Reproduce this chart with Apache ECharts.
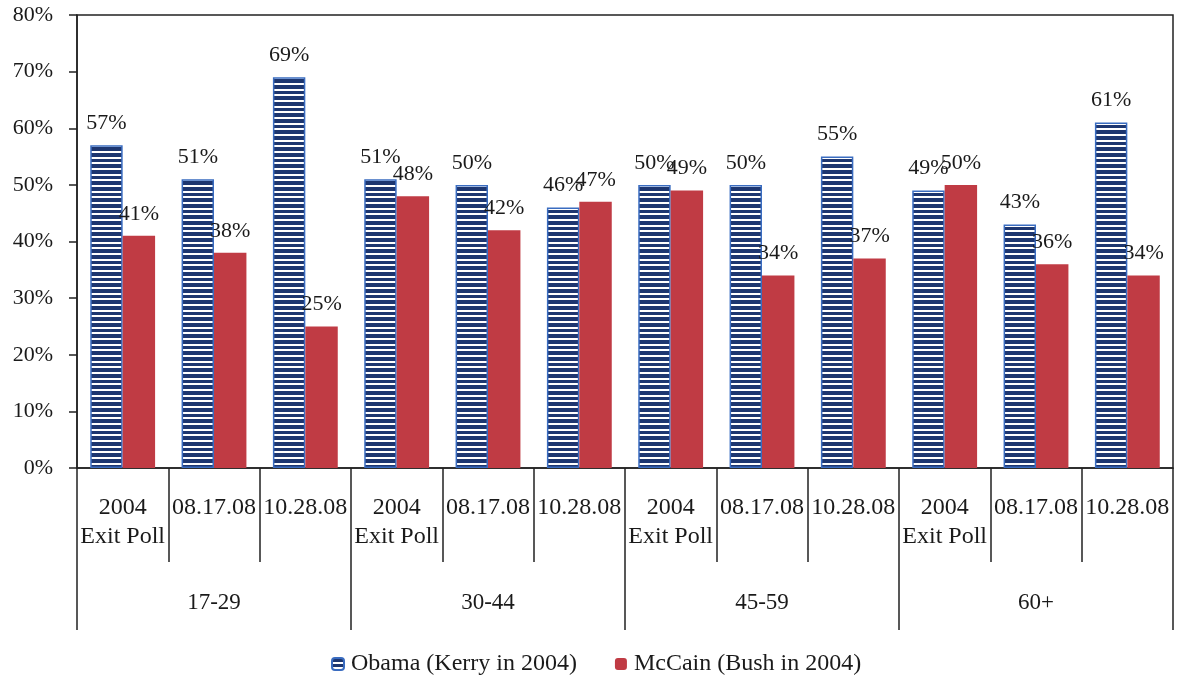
<!DOCTYPE html>
<html>
<head>
<meta charset="utf-8">
<script src="https://cdn.jsdelivr.net/npm/echarts@6/dist/echarts.min.js"></script>
<style>
html,body{margin:0;padding:0;background:#fff;}
#chart{width:1177px;height:678px;}
</style>
</head>
<body>
<div id="chart"></div>
<script>
const subCategories = ['2004\nExit Poll','08.17.08','10.28.08','2004\nExit Poll','08.17.08','10.28.08','2004\nExit Poll','08.17.08','10.28.08','2004\nExit Poll','08.17.08','10.28.08'];
const ageGroups = ['17-29','30-44','45-59','60+'];
const obama = [57,51,69,51,50,46,50,50,55,49,43,61];
const mccain = [41,38,25,48,42,47,49,34,37,50,36,34];
const seriesNames = ['Obama (Kerry in 2004)','McCain (Bush in 2004)'];

const FONT = '"Liberation Serif", "Times New Roman", serif';
const TXT = '#1a1a1a';

function stripeCanvas(){
  const c = document.createElement('canvas');
  c.width = 4; c.height = 17;
  const g = c.getContext('2d');
  g.fillStyle = '#ffffff'; g.fillRect(0,0,4,17);
  g.fillStyle = '#1d3670';
  g.fillRect(0,0,4,4);
  g.fillRect(0,6,4,3);
  g.fillRect(0,11,4,4);
  return c;
}
const stripe = {image: stripeCanvas(), repeat: 'repeat'};

const chart = echarts.init(document.getElementById('chart'));
chart.setOption({
  animation:false,
  backgroundColor:'#fff',
  grid:{left:77,right:4,top:15,bottom:210,show:true,borderColor:'#222',borderWidth:1.5,backgroundColor:'transparent'},
  legend:{
    left:326, top:647, itemWidth:12, itemHeight:12, itemGap:38,
    textStyle:{fontFamily:FONT,fontSize:24,color:TXT,padding:[0,0,0,2]},
    data:seriesNames
  },
  xAxis:[{
    type:'category', data:subCategories, position:'bottom',
    axisLine:{show:true,lineStyle:{color:'#222',width:1.5}},
    axisTick:{show:true,interval:0,length:94,lineStyle:{color:'#222',width:1.5}},
    axisLabel:{interval:0,margin:25,fontFamily:FONT,fontSize:24,color:TXT,lineHeight:29,align:'center'}
  },{
    type:'category', data:ageGroups, position:'bottom',
    axisLine:{show:false},
    axisTick:{show:true,interval:0,length:162,lineStyle:{color:'#222',width:1.5}},
    axisLabel:{interval:0,margin:120,fontFamily:FONT,fontSize:23,color:TXT,lineHeight:29}
  }],
  yAxis:{
    type:'value', min:0, max:80, interval:10,
    axisLine:{show:true,lineStyle:{color:'#222',width:1.5}},
    axisTick:{show:true,length:8,lineStyle:{color:'#222',width:1.5}},
    splitLine:{show:false},
    axisLabel:{formatter:'{value}%',margin:24,fontFamily:FONT,fontSize:22,color:TXT}
  },
  series:[{
    name:seriesNames[0], type:'bar', data:obama, xAxisIndex:0,
    barGap:'0%', barCategoryGap:'29%',
    itemStyle:{color:stripe,borderColor:'#3a6cc0',borderWidth:1.5},
    label:{show:true,position:'top',distance:11,formatter:'{c}%',fontFamily:FONT,fontSize:22,color:TXT}
  },{
    name:seriesNames[1], type:'bar', data:mccain, xAxisIndex:0,
    barGap:'0%', barCategoryGap:'29%',
    itemStyle:{color:'#c03b44'},
    label:{show:true,position:'top',distance:11,formatter:'{c}%',fontFamily:FONT,fontSize:22,color:TXT}
  }]
});
</script>
</body>
</html>
